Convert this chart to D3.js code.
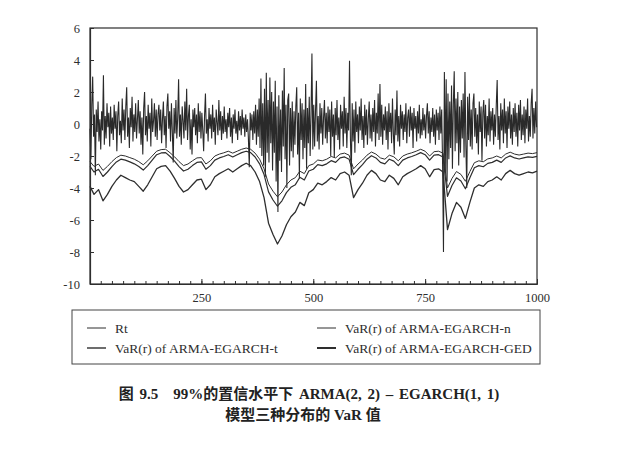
<!DOCTYPE html>
<html>
<head>
<meta charset="utf-8">
<script src="https://d3js.org/d3.v7.min.js"></script>
<style>
  body { margin: 0; background: #fff; }
  svg { display: block; }
</style>
</head>
<body>
<div id="chart"></div>
<script>
// series
// Rt is read every 2 observations, the VaR lines every 10
var rtValues = [
  -0.3,-2.2,1.2,2.96,-0.8,0.6,-3.2,0.9,-0.5,1.4,-1.1,0.3,-1.6,0.8,-0.4,3.05,-1.3,0.5,-0.9,1.3,-0.2,0.7,-1.4,1.1,-0.6,
  0.4,-1.0,1.2,-0.3,0.8,-1.7,0.5,1.4,-0.7,0.2,-1.2,1.6,-0.4,0.9,-1.0,1.1,2.3,-0.8,0.4,-1.5,1.0,-0.2,1.7,-1.1,0.6,
  -0.5,1.3,-0.9,0.3,1.5,-0.6,0.8,-1.3,0.4,-1.9,1.0,2.0,-0.7,0.5,-1.1,1.2,-0.3,0.7,-1.4,1.6,-0.5,0.2,1.3,-0.8,0.9,
  -1.0,0.6,1.2,-0.4,0.9,-1.2,0.3,1.4,-0.7,0.5,-1.5,1.1,1.9,-0.3,0.8,-1.1,1.3,-0.5,-2.4,1.0,-0.6,1.5,-0.9,0.4,2.8,
  -0.8,0.6,-1.3,1.1,0.2,-0.9,1.4,-0.4,2.2,-1.0,0.5,1.2,-1.6,0.3,-1.9,0.9,-0.2,1.0,-0.7,0.6,-1.2,1.3,-0.5,0.8,-0.9,
  0.7,-0.4,-1.7,0.5,1.9,-0.6,0.3,-1.1,1.0,-0.3,0.6,-0.9,1.2,-0.5,0.4,-1.3,0.9,0.1,-0.7,1.5,-0.4,0.8,-1.0,0.5,-0.6,
  1.1,-0.5,0.3,-0.9,0.7,-0.2,1.0,-0.8,0.4,-1.2,0.6,-0.3,0.9,-0.6,0.2,-1.0,0.8,-0.4,0.5,-0.7,0.9,-0.3,0.4,-0.8,0.6,
  -0.5,0.3,-0.9,-2.7,0.7,-0.4,0.6,-1.0,0.8,-0.6,1.2,-1.3,0.9,-0.8,1.6,-1.5,2.85,-2.0,1.3,-2.6,2.2,-3.3,3.2,-1.8,1.5,
  -2.4,2.9,-1.2,2.0,-2.9,1.4,-1.8,2.7,-3.6,1.1,-5.5,1.8,-2.3,0.9,-3.0,2.1,-1.4,3.5,-2.2,1.2,-4.0,1.5,1.9,-2.6,1.0,
  -1.7,1.4,-2.1,0.8,-1.3,1.1,2.3,-1.9,0.7,-3.4,1.6,-1.0,1.3,-2.2,0.9,-1.5,2.5,-2.8,1.0,-1.2,1.7,-2.0,0.6,4.4,-1.6,
  1.2,-1.4,0.8,2.7,-1.1,0.5,-1.6,1.3,-0.6,1.0,-1.3,0.4,1.5,-0.9,0.7,-1.2,1.1,-0.5,0.9,-2.0,1.4,-0.8,0.6,-2.1,1.0,
  -0.7,1.5,-1.0,0.4,-1.6,1.2,-0.3,0.8,-1.4,1.7,-0.6,1.0,-1.5,0.7,-0.4,3.96,-0.9,-3.2,1.3,-1.1,0.9,-1.8,1.4,-0.5,0.6,
  -1.2,1.1,-0.4,1.6,-1.0,0.5,-1.5,1.2,-0.7,0.9,-1.3,0.3,1.4,-0.9,0.6,-1.1,1.0,-0.5,1.5,-1.4,0.7,-0.6,1.9,-1.0,2.5,
  -0.8,1.2,-1.3,0.6,-0.4,1.1,-1.0,0.8,-1.6,1.3,-0.5,0.7,-1.2,1.6,-0.6,-1.9,0.9,-0.7,2.1,-1.1,0.5,-1.4,1.2,-0.3,0.8,
  -1.0,0.6,-0.5,1.3,-1.2,0.4,0.9,-0.8,1.1,-0.4,0.7,-1.5,1.0,-0.3,0.5,-1.1,0.8,-0.6,1.2,-0.9,0.3,-0.7,1.0,-0.4,0.6,
  -0.9,0.5,1.3,-0.6,0.8,-1.2,0.4,-0.5,1.0,-0.8,0.6,-1.3,0.9,-0.4,0.7,-1.0,1.1,-0.6,0.9,-2.5,-8.0,3.25,-3.0,2.8,-3.6,
  1.9,-2.2,1.4,-1.5,2.4,-2.8,1.2,3.3,-1.7,1.6,-1.2,2.0,-2.6,1.1,-1.8,1.5,-0.9,1.9,-2.1,3.25,-1.3,-4.0,1.7,-1.0,1.9,
  -1.4,0.9,-1.6,1.3,1.9,-0.8,1.0,-1.2,0.6,-1.9,1.4,-0.5,1.1,-2.3,0.7,1.5,-0.9,1.2,-1.4,0.5,-0.7,1.6,-1.1,0.8,-0.4,
  1.0,-1.3,0.6,-0.8,1.2,2.75,-1.0,0.5,-1.6,1.3,-0.4,0.9,-1.2,1.6,-0.6,0.8,-1.5,1.1,-0.3,1.4,-0.9,0.6,-1.3,1.0,-0.5,
  1.3,-0.8,0.7,-1.4,1.2,-0.4,1.5,-1.0,0.6,-0.7,1.1,-1.2,0.9,-0.3,1.6,-1.1,0.5,-0.8,1.3,2.2,-0.9,1.0,-0.6,1.4,-0.2
];
var rtT = d3.range(1, 1000, 2);

var varT = [1].concat(d3.range(10, 1001, 10));
var varN = [
  -2.35,-2.65,-2.5,-2.9,-2.65,-2.35,-2.1,-1.95,-2.0,-2.1,
  -2.2,-2.35,-2.55,-2.3,-2.0,-1.7,-1.6,-1.58,-1.8,-2.05,
  -2.35,-2.6,-2.5,-2.3,-2.12,-2.1,-2.5,-2.3,-2.0,-1.88,
  -1.8,-1.7,-1.82,-1.7,-1.58,-1.5,-1.58,-1.82,-2.2,-2.8,
  -3.75,-4.2,-4.55,-4.25,-3.8,-3.5,-3.35,-2.95,-3.1,-2.6,
  -2.5,-2.25,-2.3,-2.2,-2.03,-2.12,-1.88,-1.82,-1.95,-2.8,
  -2.5,-2.25,-1.95,-1.75,-1.88,-2.12,-2.2,-1.95,-2.05,-2.3,
  -2.0,-1.88,-1.8,-1.7,-1.58,-1.7,-2.0,-1.73,-1.7,-1.82,
  -4.0,-3.4,-2.97,-3.15,-3.58,-2.97,-2.42,-2.3,-2.36,-2.18,
  -2.12,-2.0,-2.12,-1.88,-1.76,-1.88,-1.94,-1.88,-1.82,-1.85,
  -1.79
];
var varTd = [
  -3.9,-4.4,-4.1,-4.8,-4.4,-3.9,-3.5,-3.2,-3.35,-3.5,
  -3.6,-3.9,-4.2,-3.8,-3.3,-2.8,-2.65,-2.6,-2.95,-3.4,
  -3.9,-4.25,-4.1,-3.8,-3.5,-3.45,-4.1,-3.8,-3.3,-3.1,
  -2.95,-2.8,-3.0,-2.8,-2.6,-2.45,-2.6,-3.0,-3.6,-4.6,
  -6.2,-6.9,-7.5,-7.0,-6.3,-5.8,-5.5,-4.9,-5.1,-4.3,
  -4.1,-3.7,-3.8,-3.6,-3.35,-3.5,-3.1,-3.0,-3.2,-4.6,
  -4.1,-3.7,-3.2,-2.9,-3.1,-3.5,-3.6,-3.2,-3.4,-3.8,
  -3.3,-3.1,-2.95,-2.8,-2.6,-2.8,-3.3,-2.85,-2.8,-3.0,
  -6.6,-5.6,-4.9,-5.2,-5.9,-4.9,-4.0,-3.8,-3.9,-3.6,
  -3.5,-3.3,-3.5,-3.1,-2.9,-3.1,-3.2,-3.1,-3.0,-3.05,
  -2.95
];
var varGED = [
  -2.65,-3.0,-2.83,-3.28,-3.0,-2.66,-2.37,-2.2,-2.26,-2.37,
  -2.49,-2.66,-2.88,-2.6,-2.26,-1.92,-1.81,-1.79,-2.03,-2.32,
  -2.66,-2.94,-2.83,-2.6,-2.4,-2.37,-2.83,-2.6,-2.26,-2.12,
  -2.03,-1.92,-2.06,-1.92,-1.79,-1.7,-1.79,-2.06,-2.49,-3.16,
  -4.24,-4.75,-5.14,-4.8,-4.29,-3.96,-3.79,-3.33,-3.5,-2.94,
  -2.83,-2.54,-2.6,-2.49,-2.29,-2.4,-2.12,-2.06,-2.2,-3.16,
  -2.83,-2.54,-2.2,-1.98,-2.12,-2.4,-2.49,-2.2,-2.32,-2.6,
  -2.26,-2.12,-2.03,-1.92,-1.79,-1.92,-2.26,-1.95,-1.92,-2.06,
  -4.52,-3.84,-3.36,-3.56,-4.05,-3.36,-2.73,-2.6,-2.67,-2.46,
  -2.4,-2.26,-2.4,-2.12,-1.99,-2.12,-2.19,-2.12,-2.06,-2.09,
  -2.02
];

var yTicks = [-10, -8, -6, -4, -2, 0, 2, 4, 6];
var xTicks = [250, 500, 750, 1000];
var xMinor = d3.range(25, 1001, 25);

var legendLabels = ["Rt", "VaR(r) of ARMA-EGARCH-n", "VaR(r) of ARMA-EGARCH-t", "VaR(r) of ARMA-EGARCH-GED"];
var legendWidths = [1, 1, 1.4, 2];
var caption1 = "图 9.5\u2002\u200299%的置信水平下 ARMA(2, 2) – EGARCH(1, 1)";
var caption2 = "模型三种分布的 VaR 值";

var W = 626, H = 463;
var ink = "#2e2e2e";
var serif = "'Liberation Serif', 'Times New Roman', serif";

var svg = d3.select("#chart").append("svg")
    .attr("width", W)
    .attr("height", H);

// plot area
var plotL = 90, plotR = 537, plotT = 28, plotB = 284;
var x = d3.scaleLinear().domain([1, 1000]).range([plotL, plotR]);
var y = d3.scaleLinear().domain([-10, 6]).range([plotB, plotT]);

var line = d3.line()
    .x(function (d) { return x(d[0]); })
    .y(function (d) { return y(d[1]); });

function pairs(ts, vs) {
    return ts.map(function (t, i) { return [t, vs[i]]; });
}

var plot = svg.append("g");
plot.append("path")
    .datum(pairs(rtT, rtValues))
    .attr("d", line)
    .attr("fill", "none")
    .attr("stroke", "#2a2a2a")
    .attr("stroke-width", 1.1);

[[varN, 1], [varGED, 1.2], [varTd, 1.3]].forEach(function (s) {
    plot.append("path")
        .datum(pairs(varT, s[0]))
        .attr("d", line)
        .attr("fill", "none")
        .attr("stroke", ink)
        .attr("stroke-width", s[1])
        .attr("stroke-linejoin", "round");
});

// frame
svg.append("rect")
    .attr("x", plotL).attr("y", plotT)
    .attr("width", plotR - plotL).attr("height", plotB - plotT)
    .attr("fill", "none")
    .attr("stroke", ink)
    .attr("stroke-width", 1.2);

// axes, ticks point inwards
var yAxis = svg.append("g")
    .attr("transform", "translate(" + plotL + ",0)")
    .call(d3.axisLeft(y).tickValues(yTicks).tickFormat(function (d) { return String(d); })
        .tickSizeInner(-4).tickSizeOuter(0).tickPadding(10));

var xAxisMinor = svg.append("g")
    .attr("transform", "translate(0," + plotB + ")")
    .call(d3.axisBottom(x).tickValues(xMinor).tickFormat("").tickSizeInner(-3).tickSizeOuter(0));

var xAxis = svg.append("g")
    .attr("transform", "translate(0," + plotB + ")")
    .call(d3.axisBottom(x).tickValues(xTicks).tickFormat(d3.format("d"))
        .tickSizeInner(-5).tickSizeOuter(0).tickPadding(9));

[yAxis, xAxis, xAxisMinor].forEach(function (g) {
    g.select(".domain").attr("stroke", ink).attr("stroke-width", 1.2);
    g.selectAll(".tick line").attr("stroke", ink);
    g.selectAll("text")
        .attr("fill", ink)
        .style("font-family", serif)
        .style("font-size", "12.5px");
});

// legend
svg.append("rect")
    .attr("x", 72).attr("y", 310)
    .attr("width", 468).attr("height", 54)
    .attr("fill", "none")
    .attr("stroke", "#444")
    .attr("stroke-width", 1);

var legend = svg.append("g")
    .selectAll("g")
    .data(legendLabels)
    .enter()
    .append("g")
    .attr("transform", function (d, i) {
        return "translate(" + (i % 2 === 0 ? 87 : 317) + "," + (i < 2 ? 328 : 348) + ")";
    });

legend.append("line")
    .attr("x1", 0).attr("x2", 19)
    .attr("y1", 0).attr("y2", 0)
    .attr("stroke", ink)
    .attr("stroke-width", function (d, i) { return legendWidths[i]; });

legend.append("text")
    .attr("x", 28)
    .attr("y", 4.5)
    .attr("fill", ink)
    .style("font-family", serif)
    .style("font-size", "13.5px")
    .text(function (d) { return d; });

// caption
svg.append("text")
    .attr("x", 309).attr("y", 399)
    .attr("text-anchor", "middle")
    .attr("fill", "#222")
    .style("font-family", "'Liberation Serif', 'Noto Sans CJK SC', serif")
    .style("font-weight", "bold")
    .style("font-size", "15px")
    .style("word-spacing", "2px")
    .text(caption1);

svg.append("text")
    .attr("x", 303).attr("y", 420)
    .attr("text-anchor", "middle")
    .attr("fill", "#222")
    .style("font-family", "'Liberation Serif', 'Noto Sans CJK SC', serif")
    .style("font-weight", "bold")
    .style("font-size", "15px")
    .text(caption2);
</script>
</body>
</html>
